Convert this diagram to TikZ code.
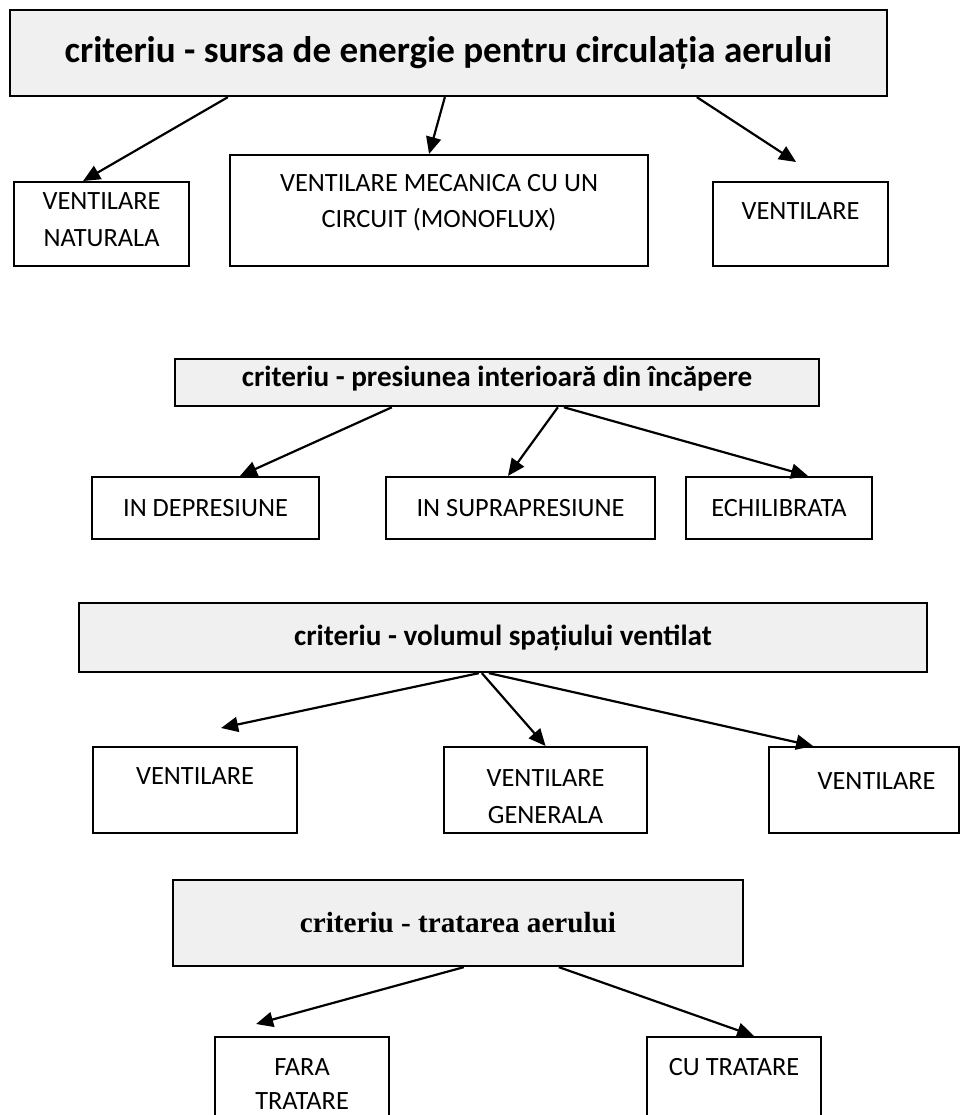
\documentclass[tikz,border=0pt]{standalone}
\usepackage{fontspec}
\setmainfont{Carlito}
\newfontfamily\timesfont{Liberation Serif}
\usepackage{xcolor}
\usepackage{tikz}
\usetikzlibrary{arrows.meta}
\tikzstyle{criteriu} = [rectangle, draw=black, line width=1.3pt, fill=gray!12, inner sep=0pt, text centered, font=\fontsize{16.6}{20}\selectfont\bfseries]
\tikzstyle{categorie} = [rectangle, draw=black, line width=1.25pt, inner sep=0pt, align=flush center, font=\fontsize{15}{21}\selectfont]
\tikzstyle{arrow} = [line width=1.25pt,-{Triangle[length=0.34cm,width=0.3cm]}]

\begin{document}
\begin{tikzpicture}[x=0.02cm, y=-0.02cm]
\useasboundingbox (0,0) rectangle (960,1115);

        % Sursa de energie
        \node (sursa) [criteriu, minimum width=17.54cm, minimum height=1.72cm, font=\fontsize{21.1}{25}\selectfont\bfseries] at (448.5,53) {criteriu - sursa de energie pentru circulația aerului};
        \node (naturala) [categorie, anchor=north west, text width=3.5cm, text height=0.547cm, text depth=1.133cm] at (13,181) {VENTILARE\\NATURALA};
        \node (mecanica) [categorie, anchor=north west, text width=8.36cm, text height=0.72cm, text depth=1.5cm] at (229,154) {VENTILARE MECANICA CU UN\\CIRCUIT (MONOFLUX)};
        \node (ventsursa) [categorie, anchor=north west, text width=3.5cm, text height=0.747cm, text depth=0.933cm] at (712,181) {VENTILARE};

        % Presiunea interioara
        \node (presiune) [criteriu, anchor=north, minimum width=12.88cm, text height=0.54cm, text depth=0.4cm] at (497,358) {criteriu - presiunea interioară din încăpere};
        \node (depresiune) [categorie, text width=4.54cm, minimum height=1.24cm] at (205.5,508) {IN DEPRESIUNE};
        \node (suprapresiune) [categorie, text width=5.38cm, minimum height=1.24cm] at (520.5,508) {IN SUPRAPRESIUNE};
        \node (echilibrata) [categorie, text width=3.72cm, minimum height=1.24cm] at (779,508) {ECHILIBRATA};

        % Volumul spatiului
        \node (volum) [criteriu, minimum width=16.96cm, minimum height=1.38cm] at (503,637.5) {criteriu - volumul spațiului ventilat};
        \node (ventlocala) [categorie, anchor=north west, text width=4.08cm, text height=0.747cm, text depth=0.973cm] at (92,746) {VENTILARE};
        \node (generala) [categorie, anchor=north west, text width=4.06cm, text height=0.787cm, text depth=0.933cm] at (443,746) {VENTILARE\\GENERALA};
        \node (ventmixta) [categorie, anchor=north west, text width=3.8cm, text height=0.847cm, text depth=0.873cm] at (768,746) {\hspace*{0.5cm}VENTILARE};

        % Tratarea aerului
        \node (tratare) [criteriu, minimum width=11.4cm, minimum height=1.72cm, font=\fontsize{16.6}{20}\selectfont\timesfont\bfseries] at (458,923) {criteriu - tratarea aerului};
        \node (faratratare) [categorie, anchor=north west, text width=3.48cm, text height=0.77cm, text depth=0.87cm, font=\fontsize{15}{19.5}\selectfont] at (214,1036) {FARA\\TRATARE};
        \node (cutratare) [categorie, anchor=north west, text width=3.48cm, text height=0.77cm, text depth=0.87cm] at (646,1036) {CU TRATARE};

        % Arrows
        \draw [arrow] ([xshift=4.38cm]sursa.south west) -- ([xshift=-0.37cm]naturala.north);
        \draw [arrow] ([xshift=8.72cm]sursa.south west) -- ([xshift=-0.2cm]mecanica.north);
        \draw [arrow] ([xshift=13.76cm]sursa.south west) -- ([xshift=-0.09cm,yshift=0.38cm]ventsursa.north);

        \draw [arrow] ([xshift=4.36cm]presiune.south west) -- ([xshift=0.69cm]depresiune.north);
        \draw [arrow] ([xshift=7.68cm]presiune.south west) -- ([xshift=-0.25cm]suprapresiune.north);
        \draw [arrow] ([xshift=7.8cm]presiune.south west) -- ([xshift=0.58cm]echilibrata.north);

        \draw [arrow] ([xshift=8.02cm]volum.south west) -- ([xshift=0.52cm,yshift=0.36cm]ventlocala.north);
        \draw [arrow] ([xshift=8.08cm]volum.south west) -- (generala.north);
        \draw [arrow] ([xshift=8.22cm]volum.south west) -- ([xshift=-1.02cm]ventmixta.north);

        \draw [arrow] ([xshift=5.84cm]tratare.south west) -- ([xshift=-0.92cm,yshift=0.24cm]faratratare.north);
        \draw [arrow] ([xshift=7.74cm]tratare.south west) -- ([xshift=0.4cm]cutratare.north);

\end{tikzpicture}
\end{document}
